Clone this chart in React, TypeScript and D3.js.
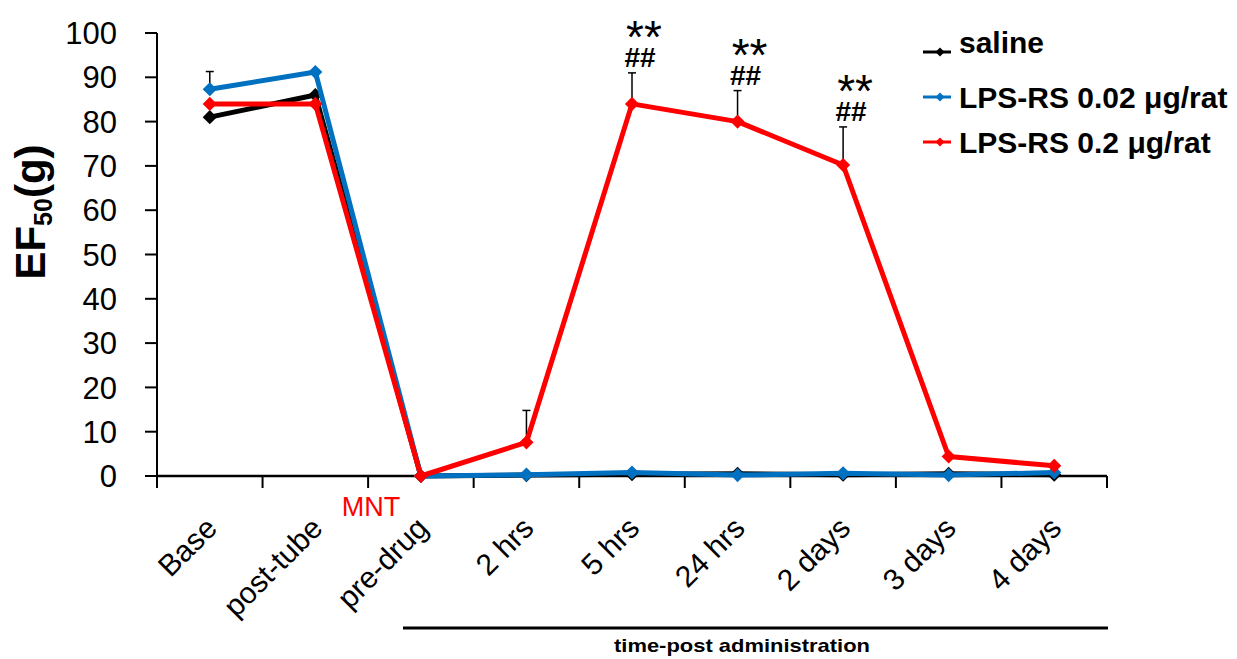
import React from 'react';
import * as d3 from 'd3';

const categories = ['Base', 'post-tube', 'pre-drug', '2 hrs', '5 hrs', '24 hrs', '2 days', '3 days', '4 days'];
const saline = [81, 86, 0, 0.2, 0.4, 0.5, 0.3, 0.5, 0.3];
const lpsLow = [87.3, 91.2, 0, 0.3, 0.8, 0.2, 0.6, 0.2, 0.8];
const lpsHigh = [84, 84, 0, 7.6, 84, 80, 70.2, 4.4, 2.3];
const lpsLowErr = [4, 0, 0, 0, 0, 0, 0, 0, 0];
const lpsHighErr = [0, 0, 0, 7.2, 7, 7, 8.6, 0, 0];
const starMarks = ['', '', '', '', '**', '**', '**', '', ''];
const hashMarks = ['', '', '', '', '##', '##', '##', '', ''];
const yTicks = [0, 10, 20, 30, 40, 50, 60, 70, 80, 90, 100];

const seriesNames = ['saline', 'LPS-RS 0.02 μg/rat', 'LPS-RS 0.2 μg/rat'];
const seriesColors = ['#000000', '#0070C0', '#FF0000'];

const font = '"Liberation Sans", Arial, sans-serif';

const App = () => {
  const width = 1237;
  const height = 659;

  const x = d3.scaleBand<string>().domain(categories).range([157, 1107]).padding(0);
  const y = d3.scaleLinear().domain([0, 100]).range([476, 33]);
  const cx = (i: number) => (x(categories[i]) as number) + x.bandwidth() / 2;

  const line = d3
    .line<number>()
    .x((d, i) => cx(i))
    .y((d) => y(d));

  const marker = d3.symbol().type(d3.symbolSquare).size(100)();
  const legendMarker = d3.symbol().type(d3.symbolSquare).size(40)();

  const allSeries = [saline, lpsLow, lpsHigh];
  const errSets = [
    { vals: lpsLow, errs: lpsLowErr },
    { vals: lpsHigh, errs: lpsHighErr },
  ];

  const tickXs = categories.map((c) => x(c) as number).concat([1107]);

  const legendY = [52, 97, 142];
  const legendBase = [53, 108, 153];

  return (
    <svg width={width} height={height} style={{ position: 'absolute', left: 0, top: 0, background: '#fff' }}>
      {/* y axis */}
      <line x1={157} x2={157} y1={y(100)} y2={y(0)} stroke="#000" strokeWidth={2} />
      {yTicks.map((t) => (
        <g key={t}>
          <line x1={145} x2={157} y1={y(t)} y2={y(t)} stroke="#000" strokeWidth={2} />
          <text x={117} y={y(t)} dy="0.36em" textAnchor="end" fontFamily={font} fontSize={31} fill="#000">
            {t}
          </text>
        </g>
      ))}
      <text transform="translate(45,212) rotate(-90)" textAnchor="middle" fontFamily={font} fontWeight="bold" fontSize={42}>
        EF
        <tspan fontSize={25} dy={7}>50</tspan>
        <tspan dy={-7}>(g)</tspan>
      </text>

      {/* x axis */}
      <line x1={157} x2={1107} y1={y(0)} y2={y(0)} stroke="#000" strokeWidth={2.5} />
      {tickXs.map((tx, i) => (
        <line key={i} x1={tx} x2={tx} y1={y(0)} y2={y(0) + 12} stroke="#000" strokeWidth={2} />
      ))}
      {categories.map((c, i) => (
        <text
          key={c}
          transform={`translate(${cx(i) + 9},530) rotate(-45)`}
          textAnchor="end"
          fontFamily={font}
          fontSize={30}
          fill="#000"
        >
          {c}
        </text>
      ))}
      <text x={(x('pre-drug') as number) + 3} y={516} textAnchor="middle" fontFamily={font} fontSize={27} fill="#FF0000">
        MNT
      </text>

      {/* error bars */}
      {errSets.map((s, si) =>
        s.vals.map((v, i) =>
          s.errs[i] > 0 ? (
            <g key={`${si}-${i}`} stroke="#000" strokeWidth={1.5}>
              <line x1={cx(i)} x2={cx(i)} y1={y(v)} y2={y(v + s.errs[i])} />
              <line x1={cx(i) - 4} x2={cx(i) + 4} y1={y(v + s.errs[i])} y2={y(v + s.errs[i])} />
            </g>
          ) : null
        )
      )}

      {/* series */}
      {allSeries.map((vals, si) => (
        <g key={si}>
          <path d={line(vals) as string} fill="none" stroke={seriesColors[si]} strokeWidth={5} strokeLinejoin="round" />
          {vals.map((v, i) => (
            <path key={i} d={marker as string} transform={`translate(${cx(i)},${y(v)}) rotate(45)`} fill={seriesColors[si]} />
          ))}
        </g>
      ))}

      {/* significance marks */}
      {lpsHigh.map((v, i) =>
        starMarks[i] ? (
          <g key={i} fontFamily={font} fill="#000">
            <text x={cx(i) + 8} y={y(v + lpsHighErr[i]) - 6} textAnchor="middle" fontSize={28} fontWeight="bold">
              {hashMarks[i]}
            </text>
            <text x={cx(i) + 12} y={y(v + lpsHighErr[i]) - 20} textAnchor="middle" fontSize={46}>
              {starMarks[i]}
            </text>
          </g>
        ) : null
      )}

      {/* legend */}
      {seriesNames.map((n, i) => (
        <g key={n}>
          <line x1={923} x2={951} y1={legendY[i]} y2={legendY[i]} stroke={seriesColors[i]} strokeWidth={3} />
          <path d={legendMarker as string} transform={`translate(940,${legendY[i]}) rotate(45)`} fill={seriesColors[i]} />
          <text x={959} y={legendBase[i]} fontFamily={font} fontWeight="bold" fontSize={30} fill="#000">
            {n}
          </text>
        </g>
      ))}

      {/* bracket */}
      <line x1={403} x2={1108} y1={628} y2={628} stroke="#000" strokeWidth={3} />
      <text
        x={742}
        y={652}
        textAnchor="middle"
        fontFamily={'"Liberation Sans Narrow", ' + font}
        fontWeight="bold"
        fontSize={19}
        textLength={256}
        lengthAdjust="spacingAndGlyphs"
      >
        time-post administration
      </text>
    </svg>
  );
};

export default App;
